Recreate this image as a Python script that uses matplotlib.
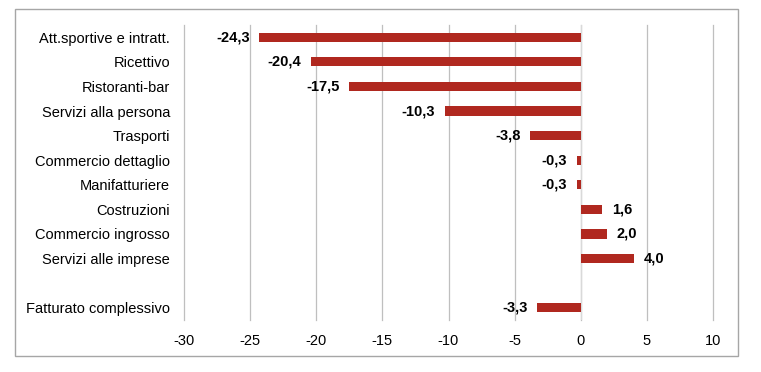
import matplotlib
matplotlib.use("Agg")
import matplotlib.pyplot as plt
from matplotlib.patches import Rectangle

categories = ["Att.sportive e intratt.", "Ricettivo", "Ristoranti-bar", "Servizi alla persona",
              "Trasporti", "Commercio dettaglio", "Manifatturiere", "Costruzioni",
              "Commercio ingrosso", "Servizi alle imprese", "", "Fatturato complessivo"]
values = [-24.3, -20.4, -17.5, -10.3, -3.8, -0.3, -0.3, 1.6, 2.0, 4.0, None, -3.3]
xticks = [-30, -25, -20, -15, -10, -5, 0, 5, 10]

plt.rcParams['font.family'] = ['Liberation Sans', 'DejaVu Sans']
W, H = 761, 372
fs = 10.5
fig = plt.figure(figsize=(W/100, H/100), dpi=100)
ax = fig.add_axes([184/W, 1-320/H, (713-184)/W, (320-25)/H])

color = '#B0281F'
pos = list(range(len(categories)))
for p, v in zip(pos, values):
    if v is None:
        continue
    ax.barh(p, v, height=0.37, color=color, zorder=3)
    lab = f"{v:.1f}".replace('.', ',')
    if v < 0:
        ax.annotate(lab, (v, p), xytext=(-7, 0), textcoords='offset points',
                    ha='right', va='center', fontsize=fs, fontweight='bold')
    else:
        ax.annotate(lab, (v, p), xytext=(7, 0), textcoords='offset points',
                    ha='left', va='center', fontsize=fs, fontweight='bold')

ax.set_xlim(-30, 10)
ax.set_ylim(len(categories)-0.5, -0.5)
ax.set_xticks(xticks)
ax.set_xticklabels([str(t) for t in xticks], fontsize=fs)
ax.set_yticks(pos)
ax.set_yticklabels(categories, fontsize=fs)
ax.tick_params(axis='both', length=0, pad=10)
for t in xticks:
    ax.axvline(t, color='#BFBFBF', linewidth=0.9, zorder=0, clip_on=False)
for s in ax.spines.values():
    s.set_visible(False)
ax.axvline(0, color='#D9D9D9', linewidth=0.9, zorder=1)

fig.patches.append(Rectangle((15/W, 1-356/H), (738-15)/W, (356-9)/H, transform=fig.transFigure,
                             fill=False, edgecolor='#A6A6A6', linewidth=1.0))
fig.savefig("out.png", dpi=100)
